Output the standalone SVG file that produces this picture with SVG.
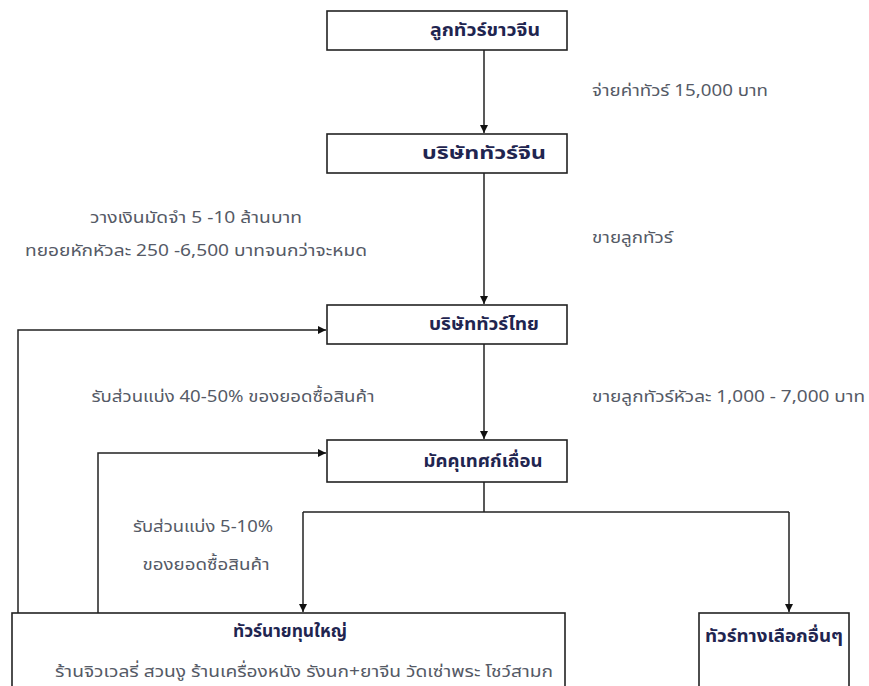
<svg xmlns="http://www.w3.org/2000/svg" width="869" height="686" viewBox="0 0 869 686">
<style>
.box{fill:#fff;stroke:#222;stroke-width:1.6}
.bt{font-family:Tahoma,"Noto Sans Thai","Noto Sans",sans-serif;font-size:17px;font-weight:bold;fill:#1f2550;text-anchor:middle}
.lt{font-family:Tahoma,"Noto Sans Thai","Noto Sans",sans-serif;font-size:16.5px;fill:#555a66}
.ln{fill:none;stroke:#222;stroke-width:1.5}
</style>
<defs>
<marker id="ah" viewBox="0 0 10 10" refX="10" refY="5" markerWidth="8" markerHeight="8" markerUnits="userSpaceOnUse" orient="auto">
<path d="M0,0 L10,5 L0,10 z" fill="#111"/>
</marker>
</defs>
<g id="connectors">
<path class="ln" d="M484,50 V133" marker-end="url(#ah)"/>
<path class="ln" d="M484,173 V304" marker-end="url(#ah)"/>
<path class="ln" d="M484,344 V439" marker-end="url(#ah)"/>
<path class="ln" d="M484,482 V512 M303,512 H789"/>
<path class="ln" d="M303,512 V612" marker-end="url(#ah)"/>
<path class="ln" d="M789,512 V612" marker-end="url(#ah)"/>
<path class="ln" d="M18,613 V330 H326" marker-end="url(#ah)"/>
<path class="ln" d="M98,613 V453 H326" marker-end="url(#ah)"/>
</g>
<g id="n1"><rect class="box" x="327" y="11" width="240" height="39"/><text class="bt" x="485" y="36" textLength="110" lengthAdjust="spacingAndGlyphs">ลูกทัวร์ขาวจีน</text></g>
<g id="n2"><rect class="box" x="327" y="134" width="240" height="39"/><text class="bt" x="484" y="159" textLength="124" lengthAdjust="spacingAndGlyphs">บริษัททัวร์จีน</text></g>
<g id="n3"><rect class="box" x="327" y="305" width="240" height="39"/><text class="bt" x="484" y="330" textLength="110" lengthAdjust="spacingAndGlyphs">บริษัททัวร์ไทย</text></g>
<g id="n4"><rect class="box" x="327" y="440" width="240" height="42"/><text class="bt" x="483" y="467" textLength="119" lengthAdjust="spacingAndGlyphs">มัคคุเทศก์เถื่อน</text></g>
<g id="n5"><rect class="box" x="12" y="613" width="553" height="90"/><text class="bt" x="290" y="637" textLength="114" lengthAdjust="spacingAndGlyphs">ทัวร์นายทุนใหญ่</text><text class="lt" x="304" y="677" text-anchor="middle" textLength="498" lengthAdjust="spacingAndGlyphs">ร้านจิวเวลรี่ สวนงู ร้านเครื่องหนัง รังนก+ยาจีน วัดเซ่าพระ โชว์สามก</text></g>
<g id="n6"><rect class="box" x="699" y="613" width="150" height="90"/><text class="bt" x="774" y="642" textLength="138" lengthAdjust="spacingAndGlyphs">ทัวร์ทางเลือกอื่นๆ</text></g>
<g id="labels">
<text class="lt" x="592" y="96" textLength="176" lengthAdjust="spacingAndGlyphs">จ่ายค่าทัวร์ 15,000 บาท</text>
<text class="lt" x="196" y="223" text-anchor="middle" textLength="212" lengthAdjust="spacingAndGlyphs">วางเงินมัดจำ 5 -10 ล้านบาท</text>
<text class="lt" x="196" y="256" text-anchor="middle" textLength="342" lengthAdjust="spacingAndGlyphs">ทยอยหักหัวละ 250 -6,500 บาทจนกว่าจะหมด</text>
<text class="lt" x="592" y="243" textLength="81" lengthAdjust="spacingAndGlyphs">ขายลูกทัวร์</text>
<text class="lt" x="233" y="402" text-anchor="middle" textLength="283" lengthAdjust="spacingAndGlyphs">รับส่วนแบ่ง 40-50% ของยอดซื้อสินค้า</text>
<text class="lt" x="592" y="402" textLength="273" lengthAdjust="spacingAndGlyphs">ขายลูกทัวร์หัวละ 1,000 - 7,000 บาท</text>
<text class="lt" x="203" y="532" text-anchor="middle" textLength="140" lengthAdjust="spacingAndGlyphs">รับส่วนแบ่ง 5-10%</text>
<text class="lt" x="206" y="570" text-anchor="middle" textLength="127" lengthAdjust="spacingAndGlyphs">ของยอดซื้อสินค้า</text>
</g>
</svg>
